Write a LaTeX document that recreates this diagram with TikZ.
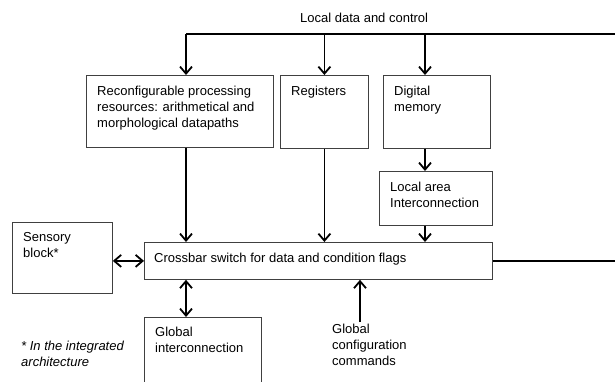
\documentclass[tikz,border=0pt]{standalone}
\usepackage{fontspec}
\setmainfont{Liberation Sans}
\usetikzlibrary{arrows.meta}

\begin{document}
\begin{tikzpicture}[x=1pt,y=-1pt,
  font=\fontsize{13}{16}\selectfont,
  box/.style={draw=black!75, line width=0.8pt, anchor=north west, inner sep=0pt},
  txt/.style={anchor=north west, align=left, inner xsep=11pt, inner ysep=11pt},
  plain/.style={anchor=north west, align=left, inner sep=0pt},
  bus/.style={line width=1.8pt},
  arr/.style={bus, -{Straight Barb[length=7pt,width=12pt]}},
  dbl/.style={bus, {Straight Barb[length=7pt,width=12pt]}-{Straight Barb[length=7pt,width=12pt]}}]
\useasboundingbox (0,0) rectangle (615,382);
\clip (0,0) rectangle (615,382);

% Title
\node[anchor=base west, inner sep=0pt] (title) at (300,23) {Local data and control};

% Upper blocks
\node[box, minimum width=187pt, minimum height=72pt,
  label={[txt]north west:Reconfigurable processing\\resources: arithmetical and\\morphological datapaths}] (reconf) at (86,75) {};
\node[box, minimum width=88pt, minimum height=73pt,
  label={[txt]north west:Registers}] (regs) at (280,75) {};
\node[box, minimum width=107pt, minimum height=73pt,
  label={[txt]north west:Digital\\memory}] (dmem) at (383,75) {};
\node[box, minimum width=113pt, minimum height=54pt,
  label={[txt]north west:Local area\\Interconnection}] (lai) at (379,171) {};

% Crossbar
\node[box, minimum width=348pt, minimum height=37pt,
  label={[txt, inner xsep=10pt]north west:Crossbar switch for data and condition flags}] (xbar) at (144,242) {};

% Side and lower blocks
\node[box, minimum width=100pt, minimum height=71pt,
  label={[txt, inner ysep=10pt]north west:Sensory\\block*}] (sensor) at (12,222) {};
\node[box, minimum width=117pt, minimum height=90pt,
  label={[txt, inner ysep=10pt]north west:Global\\interconnection}] (globint) at (144,317) {};
\node[plain] (globcfg) at (332,324) {Global\\configuration\\commands};
\node[plain, font=\fontsize{13}{16}\selectfont\itshape] (note) at (21,341) {* In the integrated\\architecture};

% Taps
\coordinate (busR) at (615,34);
\coordinate (busL) at (186,34);
\coordinate (busM) at (425,34);
\coordinate (cfgin) at (360,322);

% Arrows
\draw[bus] (busR) -- (busL);
\draw[arr] (busL) -- (busL |- reconf.north);
\draw[arr] (regs.north |- busL) -- (regs.north);
\draw[arr] (busM) -- (busM |- dmem.north);
\draw[arr] (busM |- dmem.south) -- (busM |- lai.north);
\draw[arr] (busM |- lai.south) -- (busM |- xbar.north);
\draw[arr] (busL |- reconf.south) -- (busL |- xbar.north);
\draw[arr] (regs.south) -- (regs.south |- xbar.north);
\draw[dbl] (sensor.east |- xbar.west) -- (xbar.west);
\draw[dbl] (busL |- xbar.south) -- (busL |- globint.north);
\draw[arr] (cfgin) -- (cfgin |- xbar.south);
\draw[bus] (xbar.east) -- (xbar.east -| busR);
\end{tikzpicture}
\end{document}
